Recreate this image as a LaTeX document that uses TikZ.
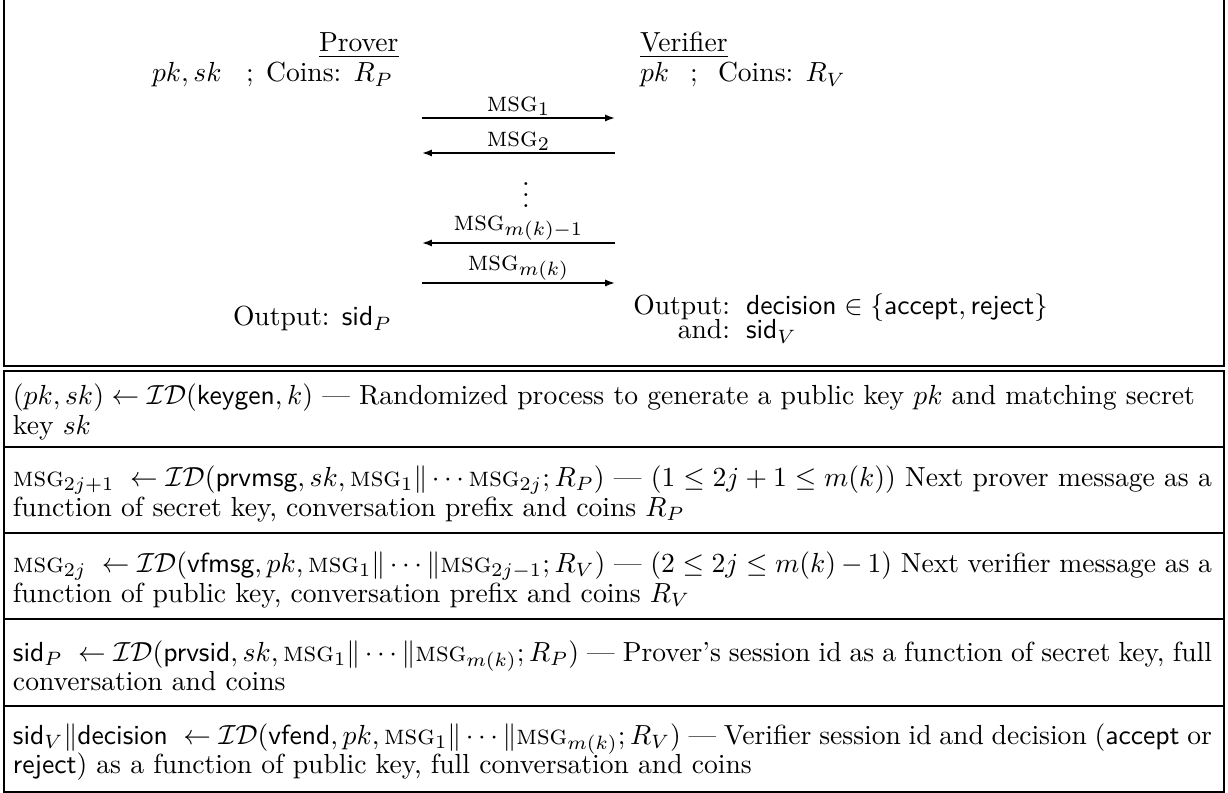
\documentclass[tikz,border=0pt]{standalone}
\usepackage{amsmath,amssymb}
\usetikzlibrary{arrows.meta}
\newcommand{\msgsc}{\textsc{msg}}
\newcommand{\IDcal}{\mathcal{I}\mathcal{D}}
\newcommand{\nodefont}{\fontsize{10}{10.7}\selectfont}
\newlength{\rowW}
\setlength{\rowW}{434.4pt}
\tikzset{
  every node/.style={inner sep=0pt, outer sep=0pt, font=\nodefont},
  frame/.style={line width=0.87pt},
  msgarrow/.style={line width=0.62pt, -{Latex[length=3.6pt,width=2.6pt]}},
  msglabel/.style={above=0.9pt, midway},
  rowtext/.style={anchor=west, align=left},
  basel/.style={anchor=base west},
  baser/.style={anchor=base east},
}
\begin{document}
\lineskiplimit=-10pt\relax
\begin{tikzpicture}[x=0.3623pt, y=-0.3623pt]
\useasboundingbox (0,0) rectangle (1228,793);
% upper frame (open at top)
\draw[frame] (4,0) -- (4,366) -- (1224,366) -- (1224,0);
% lower table
\draw[frame] (4,371) rectangle (1224,792);
\foreach \yy in {447,533,619,706} \draw[frame] (4,\yy) -- (1224,\yy);

% parties
\node[basel] (prover) at (319,52) {\underline{Prover}};
\node[basel] (verifier) at (640,52) {\underline{Verifier}};
\node[basel] (pksk) at (152,82) {$pk,sk$};
\node[basel] (semiP) at (246,82) {;};
\node[baser] (coinsP) at (393,82) {Coins: $R_P$};
\node[basel] (pkV) at (640,82) {$pk$};
\node[basel] (semiV) at (690,82) {;};
\node[basel] (coinsV) at (718,82) {Coins: $R_V$};

% messages
\coordinate (m1L) at (422,118); \coordinate (m1R) at (615,118);
\coordinate (m2L) at (422,153); \coordinate (m2R) at (615,153);
\coordinate (m3L) at (422,243); \coordinate (m3R) at (615,243);
\coordinate (m4L) at (422,283); \coordinate (m4R) at (615,283);
\draw[msgarrow] (m1L) -- (m1R) node[msglabel] (l1) {\msgsc$_1$};
\draw[msgarrow] (m2R) -- (m2L) node[msglabel] (l2) {\msgsc$_2$};
\node (dots) at (526,187) {$\vdots$};
\draw[msgarrow] (m3R) -- (m3L) node[msglabel] (l3) {\msgsc$_{m(k)-1}$};
\draw[msgarrow] (m4L) -- (m4R) node[msglabel] (l4) {\msgsc$_{m(k)}$};

% outputs
\node[basel] (outP) at (233,326) {Output: $\textsf{sid}_P$};
\node[baser] (outV) at (730,315) {Output:};
\node[basel] (decV) at (746,315) {$\textsf{decision}\in\{\textsf{accept},\textsf{reject}\}$};
\node[baser] (andV) at (730,339) {and:};
\node[basel] (sidV) at (746,339) {$\textsf{sid}_V$};

% table rows
\node[rowtext] (r1) at (13,412) {$(pk,sk)\leftarrow\IDcal(\textsf{keygen},k)$ --- Randomized process to generate a public key $pk$ and matching secret\\ key $sk$};
\node[rowtext] (r2) at (13,494) {\makebox[\rowW][s]{$\msgsc_{2j+1}\;\leftarrow\IDcal(\textsf{prvmsg},sk,\msgsc_1\|\cdots\msgsc_{2j};R_P)$ --- $(1\le 2j+1\le m(k))$ Next prover message as a}\\ function of secret key, conversation prefix and coins $R_P$};
\node[rowtext] (r3) at (13,580) {\makebox[\rowW][s]{$\msgsc_{2j}\;\leftarrow\IDcal(\textsf{vfmsg},pk,\msgsc_1\|\cdots\|\msgsc_{2j-1};R_V)$ --- $(2\le 2j\le m(k)-1)$ Next verifier message as a}\\ function of public key, conversation prefix and coins $R_V$};
\node[rowtext] (r4) at (13,666) {\makebox[\rowW][s]{$\textsf{sid}_P\;\leftarrow\IDcal(\textsf{prvsid},sk,\msgsc_1\|\cdots\|\msgsc_{m(k)};R_P)$ --- Prover's session id as a function of secret key, full}\\ conversation and coins};
\node[rowtext] (r5) at (13,752) {\makebox[\rowW][s]{$\textsf{sid}_V\|\textsf{decision}\;\leftarrow\IDcal(\textsf{vfend},pk,\msgsc_1\|\cdots\|\msgsc_{m(k)};R_V)$ --- Verifier session id and decision (\textsf{accept} or}\\ \textsf{reject}) as a function of public key, full conversation and coins};
\end{tikzpicture}
\end{document}
